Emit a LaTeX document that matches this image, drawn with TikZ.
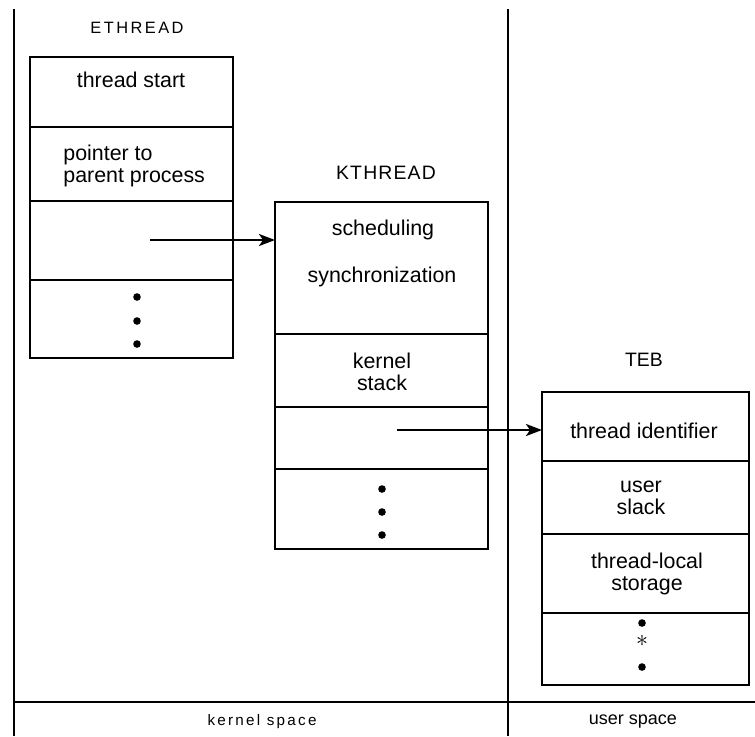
\documentclass[tikz,border=0pt]{standalone}
\usepackage{fontspec}
\setmainfont{Liberation Sans}
\newfontfamily\ehfont[LetterSpace=15]{Liberation Sans}
\newfontfamily\khfont[LetterSpace=6]{Liberation Sans}
\newfontfamily\ksfont[LetterSpace=15]{Liberation Sans}
\usetikzlibrary{positioning,arrows.meta}

\begin{document}
\begin{tikzpicture}[x=0.5pt, y=-0.5pt,
  cell/.style={draw, line width=1pt, inner sep=0pt, outer sep=0pt},
  lbl/.style={inner sep=0pt, align=center, font=\fontsize{10.7}{11.2}\selectfont},
  hd/.style={inner sep=0pt, font=\khfont\fontsize{9.7}{10}\selectfont},
  frame/.style={line width=1.1pt},
  dot/.style={fill=black},
  arr/.style={-{Stealth[length=8pt, width=6pt, inset=2pt]}, line width=1.2pt}]
\useasboundingbox (0,0) rectangle (755,736);
% rows of the three blocks: name/centre x/width/top/bottom
\foreach \n/\x/\w/\t/\b in
  {e1/131.5/203/57/127, e2/131.5/203/127/201, e3/131.5/203/201/280, e4/131.5/203/280/358,
   k1/381.5/213/202/334, k2/381.5/213/334/407, k3/381.5/213/407/469, k4/381.5/213/469/549,
   t1/645.5/207/392/461, t2/645.5/207/461/534, t3/645.5/207/534/613, t4/645.5/207/613/685}
  \node[cell, minimum width=\w*0.5pt, minimum height={(\b-\t)*0.5pt}] (\n) at (\x,{(\t+\b)/2}) {};
% headings
\node[hd, font=\ehfont\fontsize{8.2}{9}\selectfont] (eth) at (137,28) {ETHREAD};
\node[hd] (kth) at (386,173) {KTHREAD};
\node[hd, font=\fontsize{9.7}{10}\selectfont] (teb) at (644,360) {TEB};
% fields
\node[lbl] (e1t) at (131,80) {thread start};
\node[lbl, align=left, anchor=west] (e2t) at (63,166) {pointer to\\parent process};
\node[lbl] (k1t) at (383,230) {scheduling};
\node[lbl] (k1u) at (382,277) {synchronization};
\node[lbl] (k2t) at (382,372) {kernel\\stack};
\node[lbl] (t1t) at (644,431) {thread identifier};
\node[lbl] (t2t) at (641,498) {user\\slack};
\node[lbl] (t3t) at (647,574) {thread-local\\storage};
% continuation dots
\foreach \x/\y in {137/297, 137/321, 137/344, 382/489, 382/512, 382/535, 642/623, 642/667}
  \fill[dot] (\x,\y) circle (1.9pt);
\node[inner sep=0pt, font=\large] (t4s) at (642,641) {$\ast$};
% pointers
\coordinate (ep) at (150,240);
\coordinate (kp) at (397,430);
\draw[arr] (ep) -- (ep -| k1.west);
\draw[arr] (kp) -- (kp -| t1.west);
% address space frame
\coordinate (fl) at (14,9);
\coordinate (fm) at (508,9);
\coordinate (fb) at (14,702);
\coordinate (fr) at (755,702);
\draw[frame] (fl) -- (fl |- 0,736);
\draw[frame] (fm) -- (fm |- 0,736);
\draw[frame] (fb) -- (fr);
\node[inner sep=0pt, font=\ksfont\fontsize{7.6}{8}\selectfont] (ks) at (262,722) {kernel space};
\node[inner sep=0pt, font=\fontsize{9}{9}\selectfont] (us) at (633,722) {user space};
\end{tikzpicture}
\end{document}
